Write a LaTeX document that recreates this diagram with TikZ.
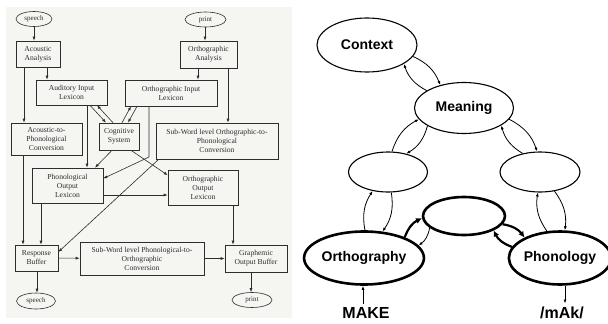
\documentclass[tikz,border=0pt]{standalone}
\usepackage{fontspec}
\setmainfont{Liberation Serif}
\newfontfamily\labelsans{Liberation Sans}
\usetikzlibrary{arrows.meta,shapes.geometric}
\definecolor{panelgray}{RGB}{245,245,242}
\definecolor{inkgray}{RGB}{45,45,45}

\begin{document}
\begin{tikzpicture}[x=1pt,y=-1pt,>={Latex[length=4pt,width=3pt]},
  box/.style={draw=inkgray,line width=0.6pt,align=center,inner sep=1pt,text=inkgray,font=\fontsize{7.6}{9}\selectfont},
  term/.style={draw=inkgray,line width=0.6pt,ellipse,inner sep=0pt,text=inkgray,font=\fontsize{7}{8}\selectfont},
  link/.style={->,draw=inkgray,line width=0.6pt},
  bubble/.style={draw,ellipse,line width=1.1pt,inner sep=0pt,font=\labelsans\bfseries\fontsize{14}{16}\selectfont},
  heavy/.style={line width=2.6pt},
  loop/.style={->,line width=0.8pt,bend left=22},
  heavyloop/.style={->,>={Latex[length=6pt,width=6pt]},line width=2.2pt,bend left=22},
  word/.style={font=\labelsans\bfseries\fontsize{16}{18}\selectfont}]
  \useasboundingbox (0,0) rectangle (608,324);
  \fill[panelgray] (6,7) rectangle (292,318);

  \node[term,minimum width=36pt,minimum height=15pt] (speechin) at (34,19) {speech};
  \node[term,minimum width=41pt,minimum height=15pt] (printin) at (205.5,19.5) {print};
  \node[box,minimum width=44pt,minimum height=26pt] (acoustic) at (38,54) {Acoustic\\Analysis};
  \node[box,minimum width=57pt,minimum height=27pt] (orthan) at (208.5,54.5) {Orthographic\\Analysis};
  \node[box,minimum width=71pt,minimum height=25pt] (audlex) at (71.5,92.5) {Auditory Input\\Lexicon};
  \node[box,minimum width=92pt,minimum height=26pt] (orthlex) at (171,93) {Orthographic Input\\Lexicon};
  \node[box,minimum width=71pt,minimum height=32pt] (acphon) at (46.5,139) {Acoustic-to-\\Phonological\\Conversion};
  \node[box,minimum width=40pt,minimum height=27pt] (cogsys) at (119,136.5) {Cognitive\\System};
  \node[box,minimum width=122pt,minimum height=36pt] (swop) at (217,141) {Sub-Word level Orthographic-to-\\Phonological\\Conversion};
  \node[box,minimum width=71pt,minimum height=35pt] (phonout) at (67.5,185.5) {Phonological\\Output\\Lexicon};
  \node[box,minimum width=70pt,minimum height=35pt] (orthout) at (203,188) {Orthographic\\Output\\Lexicon};
  \node[box,minimum width=43pt,minimum height=26pt] (respbuf) at (36.5,258) {Response\\Buffer};
  \node[box,minimum width=124pt,minimum height=33pt] (swpo) at (142,258.5) {Sub-Word level Phonological-to-\\Orthographic\\Conversion};
  \node[box,minimum width=62pt,minimum height=27pt] (graphbuf) at (256,258.5) {Graphemic\\Output Buffer};
  \node[term,minimum width=39pt,minimum height=16pt] (speechout) at (36,301) {speech};
  \node[term,minimum width=40pt,minimum height=15pt] (printout) at (252,300) {print};

  \draw[link] (speechin.south -| 34,0) -- (acoustic.north -| 34,0);
  \draw[link] (printin.south -| 205,0) -- (orthan.north -| 205,0);
  \draw[link] (acoustic.south -| 47,0) -- (audlex.north -| 47,0);
  \draw[link] (acoustic.south -| 24,0) -- (acphon.north -| 24,0);
  \draw[link] (orthan.south -| 198,0) -- (orthlex.north -| 198,0);
  \draw[link] (orthan.south -| 228,0) -- (swop.north -| 228,0);
  \draw[link] (audlex.south -| 90,0) -- (cogsys.north -| 106,0);
  \draw[link] (cogsys.north -| 113,0) -- (audlex.south -| 97,0);
  \draw[link] (orthlex.south -| 137,0) -- (cogsys.north -| 128,0);
  \draw[link] (cogsys.north -| 122,0) -- (orthlex.south -| 131,0);
  \draw[link] (audlex.south -| 87,0) -- (phonout.north -| 87,0);
  \draw[link] (cogsys.south -| 112,0) -- (phonout.north -| 95,0);
  \draw[link] (cogsys.south -| 131,0) -- ([yshift=-5pt]orthout.north west);
  \draw[link] (orthlex.south -| 149,0) -- (149,157) -- ([yshift=7pt]phonout.east);
  \draw[link] ([xshift=3pt]swop.south west) -- ([yshift=6pt]respbuf.east);
  \draw[link] (phonout.east |- 0,195) -- (orthout.west |- 0,195);
  \draw[link] (acphon.south -| 23,0) -- (respbuf.north -| 23,0);
  \draw[link] (phonout.south -| 41,0) -- (respbuf.north -| 41,0);
  \draw[link] (respbuf) -- (swpo);
  \draw[link] (swpo) -- (graphbuf);
  \draw[link] (orthout.south -| 233,0) -- (graphbuf.north -| 233,0);
  \draw[link] (respbuf.south -| 37,0) -- (speechout.north -| 37,0);
  \draw[link] (graphbuf.south -| 251,0) -- (printout.north -| 251,0);

  \node[bubble,minimum width=100pt,minimum height=54pt] (context) at (367,45) {Context};
  \node[bubble,minimum width=99pt,minimum height=51pt] (meaning) at (464,108) {Meaning};
  \node[bubble,minimum width=79pt,minimum height=40pt] (leftmid) at (388,172) {};
  \node[bubble,minimum width=80pt,minimum height=40pt] (rightmid) at (540,172) {};
  \node[bubble,heavy,minimum width=82pt,minimum height=38pt] (hidden) at (464,216) {};
  \node[bubble,heavy,minimum width=102pt,minimum height=53pt] (orthography) at (364,258) {Orthography};
  \node[bubble,heavy,minimum width=94pt,minimum height=53pt] (phonology) at (560,258) {Phonology};
  \node[word] (make) at (366,313) {MAKE};
  \node[word] (mak) at (562,313) {/mAk/};

  \draw[loop] (context.-14) to (meaning.136);
  \draw[loop] (meaning.155) to (context.-27);
  \draw[loop] (meaning.206) to (leftmid.45);
  \draw[loop] (leftmid.79) to (meaning.194);
  \draw[loop] (meaning.-14) to (rightmid.98);
  \draw[loop] (rightmid.133) to (meaning.-25);
  \draw[loop] (orthography.88) to (leftmid.231);
  \draw[loop] (leftmid.-81) to (orthography.55);
  \draw[loop] (rightmid.-53) to (phonology.80);
  \draw[loop] (phonology.116) to (rightmid.264);
  \draw[heavyloop] (orthography.27) to (hidden.183);
  \draw[loop] (hidden.199) to (orthography.13);
  \draw[heavyloop] (hidden.-12) to (phonology.150);
  \draw[heavyloop] (phonology.167) to (hidden.-26);
  \draw[->,line width=0.8pt] (make.north -| 363,0) -- (orthography.south -| 363,0);
  \draw[->,line width=0.8pt] (phonology.south -| 565,0) -- (mak.north -| 565,0);
\end{tikzpicture}
\end{document}
